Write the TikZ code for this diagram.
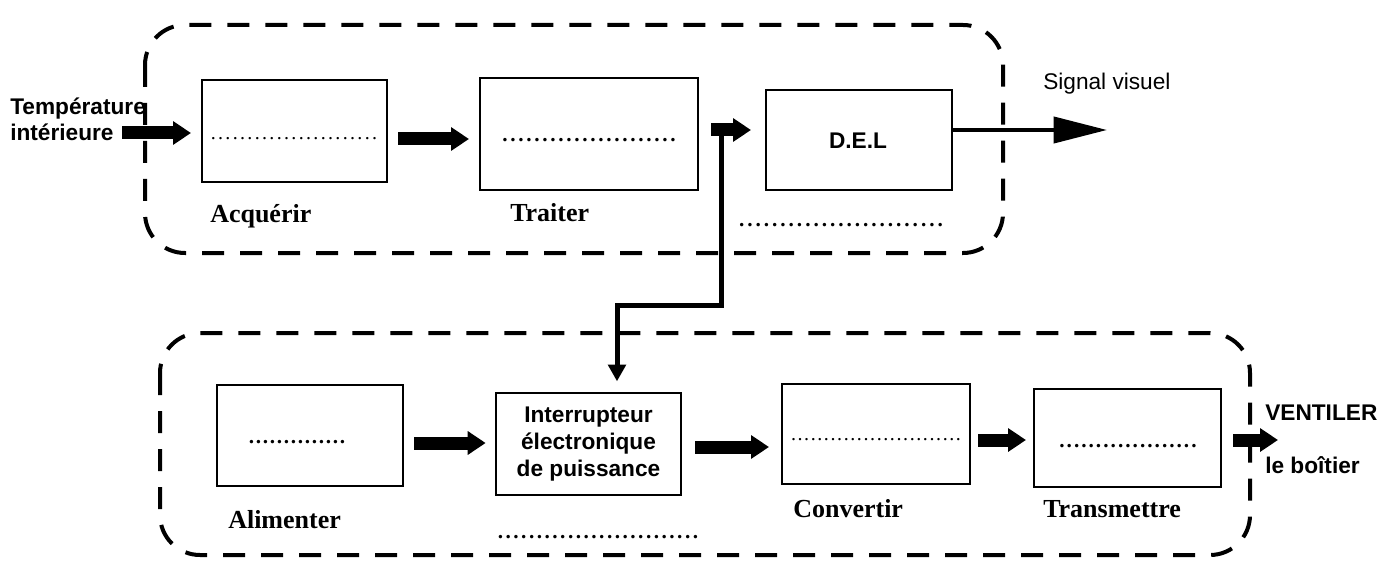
\documentclass[tikz,border=0pt]{standalone}
\usepackage{fontspec}
\setmainfont{Liberation Serif}
\setsansfont{Liberation Sans}
\usetikzlibrary{arrows.meta}
% one picture unit = 0.75pt
\def\u{0.75pt}
% a row of #1 periods, each in a box #2 wide
\newcommand\dotrow[2]{\foreach\k in {1,...,#1}{\makebox[#2]{.}}}
\tikzset{
  box/.style={draw, line width=1.5pt, inner sep=0pt},
  blk/.style={line width=9.75pt, -{Triangle[width=17pt,length=13.5pt]}},
  thin/.style={line width=3.75pt},
  grp/.style={draw, line width=3pt, dash pattern=on 16.5pt off 12pt, rounded corners=30pt},
  lbl/.style={font=\fontsize{19.5}{23}\selectfont\bfseries, anchor=base west, inner sep=0pt},
  sanslbl/.style={font=\sffamily\fontsize{17}{20}\selectfont\bfseries, anchor=base west, inner sep=0pt},
  dotsn/.style={font=\fontsize{15}{18}\selectfont, anchor=base, inner sep=0pt},
  dotsb/.style={font=\fontsize{16}{18}\selectfont\bfseries, anchor=base, inner sep=0pt},
}
\begin{document}
\begin{tikzpicture}[x=0.75pt, y=-0.75pt]
\useasboundingbox (0,0) rectangle (1392,563);

% dashed group outlines
\draw[grp] (145,25) rectangle (1003,253);
\draw[grp] (160,333) rectangle (1250,555);

% upper chain
\node[box, minimum width=185*\u, minimum height=102*\u] (acq) at (294.5,131) {};
\node[box, minimum width=218*\u, minimum height=112*\u] (trait) at (589,134) {};
\node[box, minimum width=186*\u, minimum height=100*\u] (del) at (859,140) {};
\node[font=\sffamily\fontsize{17}{20}\selectfont\bfseries, anchor=base, inner sep=0pt] (deltxt) at (858,149) {D.E.L};

\node[dotsn] (d1) at (294,140) {\dotrow{23}{5.5pt}};
\node[dotsb] (d2) at (589,142) {\dotrow{22}{6pt}};
\node[dotsb] (d3) at (841,227) {\dotrow{25}{6.2pt}};

\node[lbl] (lacq) at (210,223) {Acquérir};
\node[lbl] (ltrait) at (510,221) {Traiter};

\node[sanslbl] (temp1) at (10,115) {Température};
\node[sanslbl] (temp2) at (10,141) {intérieure};
\node[font=\sffamily\fontsize{17}{20}\selectfont, anchor=base west, inner sep=0pt] (sig) at (1043,90) {Signal visuel};

% lower chain
\node[box, minimum width=186*\u, minimum height=101*\u] (alim) at (310,435.5) {};
\node[box, minimum width=185*\u, minimum height=102*\u, align=center,
      font=\sffamily\fontsize{17}{20.25}\selectfont\bfseries] (int) at (588.5,444)
      {Interrupteur\\électronique\\de puissance};
\node[box, minimum width=188*\u, minimum height=100*\u] (conv) at (876,434) {};
\node[box, minimum width=187*\u, minimum height=98*\u] (trans) at (1127.5,438) {};

\node[dotsb] (d4) at (297,443) {\dotrow{14}{5.25pt}};
\node[dotsb] (d5) at (598,538) {\dotrow{26}{5.85pt}};
\node[dotsn] (d6) at (876,440) {\dotrow{26}{4.95pt}};
\node[dotsb] (d7) at (1128,447) {\dotrow{19}{5.5pt}};

\node[lbl] (lalim) at (228,528) {Alimenter};
\node[lbl] (lconv) at (793,517) {Convertir};
\node[lbl] (ltrans) at (1043,517) {Transmettre};
\node[sanslbl] (vent) at (1265,420) {VENTILER};
\node[font=\sffamily\fontsize{17}{20}\selectfont\bfseries, anchor=base west, inner sep=0pt] (boit) at (1265,473) {le boîtier};

% free ends of connectors
\coordinate (tin) at (122,133);
\coordinate (tap) at (721,130);
\coordinate (sigout) at (1107,130);
\coordinate (vout) at (1278,440);

% connectors
\draw[blk, shorten >=7.5pt] (tin) -- (acq.west |- tin);
\draw[blk, shorten <=7.5pt, shorten >=7.5pt] (acq.east |- 0,139) -- (trait.west |- 0,139);
\draw[blk, shorten <=9pt, shorten >=10.5pt] (trait.east |- 0,130) -- (del.west |- 0,130);
\draw[thin, -{Triangle[width=13pt,length=12.5pt]}, shorten >=8pt]
  (tap) -- (721,305) -- (617,305) -- (int.north -| 617,0);
\draw[line width=3pt, -{Triangle[width=19.5pt,length=40pt]}] (del.east |- sigout) -- (sigout);

\draw[blk, shorten <=7.5pt, shorten >=7pt] (alim.east |- 0,443) -- (int.west |- 0,443);
\draw[blk, shorten <=9.75pt, shorten >=9pt] (int.east |- 0,447) -- (conv.west |- 0,447);
\draw[blk, shorten <=5.25pt, shorten >=5.25pt] (conv.east |- 0,440) -- (trans.west |- 0,440);
\draw[blk, shorten <=8.25pt] (trans.east |- vout) -- (vout);
\end{tikzpicture}
\end{document}
